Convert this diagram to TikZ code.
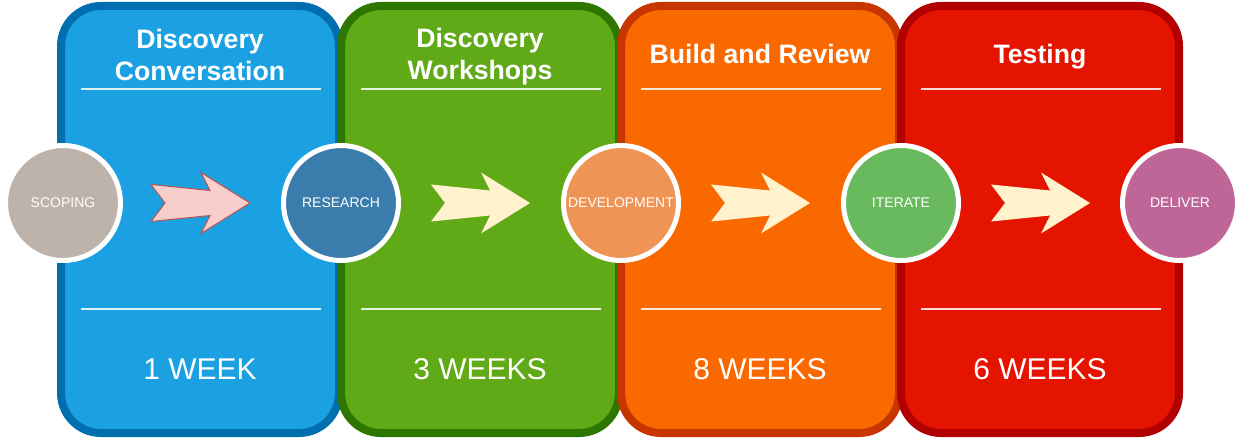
\documentclass[tikz,border=0pt]{standalone}
\usepackage{fontspec}
\setmainfont{Liberation Sans}
\usetikzlibrary{positioning}
\definecolor{convFill}{HTML}{1BA1E2}
\definecolor{convLine}{HTML}{006EAF}
\definecolor{workFill}{HTML}{60A917}
\definecolor{workLine}{HTML}{2D7600}
\definecolor{buildFill}{HTML}{FA6800}
\definecolor{buildLine}{HTML}{C73500}
\definecolor{testFill}{HTML}{E51400}
\definecolor{testLine}{HTML}{B20000}
\definecolor{scopeFill}{HTML}{BDB3AA}
\definecolor{researchFill}{HTML}{3A7CAB}
\definecolor{devFill}{HTML}{EF9455}
\definecolor{iterFill}{HTML}{69BA5E}
\definecolor{deliverFill}{HTML}{BF6699}
\definecolor{pinkFill}{HTML}{F8CECC}
\definecolor{pinkLine}{HTML}{B85450}
\definecolor{flowFill}{HTML}{FFF2CC}

\begin{document}
\begin{tikzpicture}[x=0.75pt,y=-0.75pt,
            PANEL/.style={rectangle, rounded corners=30pt, line width=6pt, minimum width=208.5pt, minimum height=320.25pt, inner sep=0pt},
            TITLE/.style={text=white, font=\fontsize{20}{24}\selectfont\bfseries, align=center, inner sep=0pt},
            WEEKS/.style={text=white, font=\fontsize{22.5}{27}\selectfont, inner sep=0pt},
            STAGE/.style={circle, draw=white, line width=3.75pt, minimum size=86.25pt, inner sep=0pt, text=white, font=\fontsize{10.5}{12}\selectfont},
            RULE/.style={draw=white, draw opacity=0.85, line width=1.5pt},
            FLOW/.style={fill=flowFill, draw=none},
        ]
        \useasboundingbox (0,0) rectangle (1241,438);

        % phases
        \node[PANEL, fill=convFill, draw=convLine]   (Conv)  at (200,219.5)  {};
        \node[PANEL, fill=workFill, draw=workLine]   (Work)  at (480,219.5)  {};
        \node[PANEL, fill=buildFill, draw=buildLine] (Build) at (760,219.5)  {};
        \node[PANEL, fill=testFill, draw=testLine]   (Test)  at (1040,219.5) {};

        \node[TITLE] (Conv_Title)  at (200,55)  {Discovery\\Conversation};
        \node[TITLE] (Work_Title)  at (480,57)  {Discovery\\Workshops};
        \node[TITLE] (Build_Title) at (760,54)  {Build and Review};
        \node[TITLE] (Test_Title)  at (1040,57) {Testing};

        \draw[RULE] (81,89) -- (321,89);
        \draw[RULE] (81,309) -- (321,309);
        \draw[RULE] (361,89) -- (601,89);
        \draw[RULE] (361,309) -- (601,309);
        \draw[RULE] (641,89) -- (881,89);
        \draw[RULE] (641,309) -- (881,309);
        \draw[RULE] (921,89) -- (1161,89);
        \draw[RULE] (921,309) -- (1161,309);

        \node[WEEKS] (Conv_Weeks)  at (200,369)  {1 WEEK};
        \node[WEEKS] (Work_Weeks)  at (480,369)  {3 WEEKS};
        \node[WEEKS] (Build_Weeks) at (760,369)  {8 WEEKS};
        \node[WEEKS] (Test_Weeks)  at (1040,369) {6 WEEKS};

        % block arrows, tips
        \coordinate (Tip_A) at (250,203);
        \coordinate (Tip_B) at (530,203);
        \coordinate (Tip_C) at (810,203);
        \coordinate (Tip_D) at (1090,203);

        \draw[fill=pinkFill, draw=pinkLine, line width=0.75pt, line join=miter, shift={(Tip_A)}]
            (0,0) -- (-49,-30.5) -- (-40,-12.5) -- (-99,-18.5) -- (-85,0) -- (-99,18.5) -- (-40,12.5) -- (-49,30.5) -- cycle;
        \fill[FLOW, shift={(Tip_B)}]
            (0,0) -- (-49,-30.5) -- (-40,-12.5) -- (-99,-18.5) -- (-85,0) -- (-99,18.5) -- (-40,12.5) -- (-49,30.5) -- cycle;
        \fill[FLOW, shift={(Tip_C)}]
            (0,0) -- (-49,-30.5) -- (-40,-12.5) -- (-99,-18.5) -- (-85,0) -- (-99,18.5) -- (-40,12.5) -- (-49,30.5) -- cycle;
        \fill[FLOW, shift={(Tip_D)}]
            (0,0) -- (-49,-30.5) -- (-40,-12.5) -- (-99,-18.5) -- (-85,0) -- (-99,18.5) -- (-40,12.5) -- (-49,30.5) -- cycle;

        % stages
        \node[STAGE, fill=scopeFill]    (Scoping)     at (63,203)   {SCOPING};
        \node[STAGE, fill=researchFill] (Research)    at (341,203)  {RESEARCH};
        \node[STAGE, fill=devFill]      (Development) at (621,203)  {DEVELOPMENT};
        \node[STAGE, fill=iterFill]     (Iterate)     at (901,203)  {ITERATE};
        \node[STAGE, fill=deliverFill]  (Deliver)     at (1180,203) {DELIVER};

    \end{tikzpicture}
\end{document}
